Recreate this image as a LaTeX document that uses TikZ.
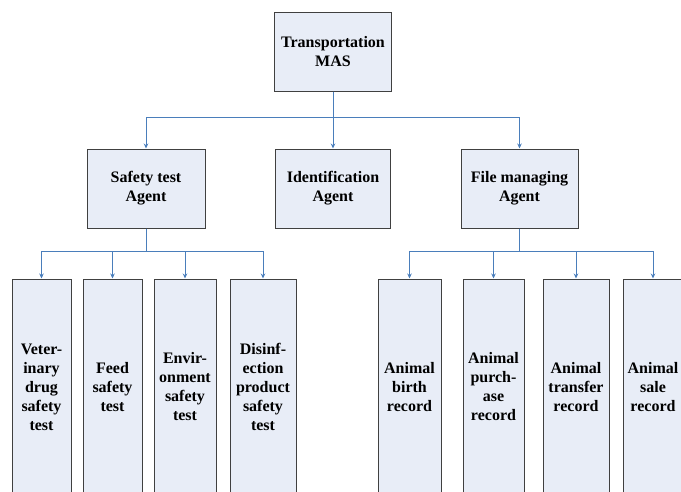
\documentclass[tikz,border=0pt]{standalone}
\usepackage{fontspec}
\setmainfont{Liberation Serif}
\usetikzlibrary{arrows.meta}
\definecolor{boxfill}{HTML}{E8EDF7}
\definecolor{boxline}{HTML}{404040}
\definecolor{linkblue}{HTML}{4A7EBB}

\begin{document}
\begin{tikzpicture}[x=1pt,y=-1pt,
  agent/.style={draw=boxline,line width=1pt,fill=boxfill,align=center,
    font=\fontsize{16}{19}\selectfont\bfseries,inner sep=0pt,minimum height=79pt},
  task/.style={agent,minimum height=216pt},
  link/.style={draw=linkblue,line width=0.9pt,-{Stealth[length=5pt,width=4.5pt]}}]
\clip (0,0) rectangle (681,491);
\node[agent,minimum width=117pt] (mas) at (333,51.5) {Transportation\\MAS};
\node[agent,minimum width=118pt] (safety) at (146,188.5) {Safety test\\Agent};
\node[agent,minimum width=115pt] (ident) at (333,188.5) {Identification\\Agent};
\node[agent,minimum width=117pt] (file) at (519.5,188.5) {File managing\\Agent};
% safety tests
\node[task,minimum width=59pt] (vet) at (41.5,387) {Veter-\\inary\\drug\\safety\\test};
\node[task,minimum width=59pt] (feed) at (112.5,387) {Feed\\safety\\test};
\node[task,minimum width=62pt] (env) at (185,387) {Envir-\\onment\\safety\\test};
\node[task,minimum width=66pt] (disinf) at (263,387) {Disinf-\\ection\\product\\safety\\test};
% records
\node[task,minimum width=63pt] (birth) at (409.5,387) {Animal\\birth\\record};
\node[task,minimum width=61pt] (purchase) at (493.5,387) {Animal\\purch-\\ase\\record};
\node[task,minimum width=66pt] (transfer) at (576,387) {Animal\\transfer\\record};
\node[task,minimum width=60pt] (sale) at (653,387) {Animal\\sale\\record};
\draw[link] (mas.south) -- ++(0,26) -| (safety.north);
\draw[link] (mas.south) -- (ident.north);
\draw[link] (mas.south) -- ++(0,26) -| (file.north);
\foreach \t in {vet,feed,env,disinf}
  \draw[link] (safety.south) -- ++(0,23) -| (\t.north);
\foreach \t in {birth,purchase,transfer,sale}
  \draw[link] (file.south) -- ++(0,23) -| (\t.north);
\end{tikzpicture}
\end{document}
